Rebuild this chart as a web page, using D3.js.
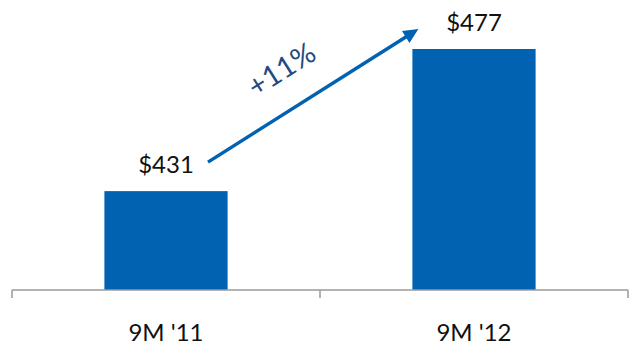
<!DOCTYPE html>
<html>
<head>
<meta charset="utf-8">
<script src="https://cdn.jsdelivr.net/npm/d3@7"></script>
<style>
  html, body { margin: 0; padding: 0; background: #fff; }
  svg { display: block; font-family: Lato, "Open Sans", sans-serif; }
</style>
</head>
<body>
<svg id="chart" width="635" height="347"></svg>
<script>
// Nine-month totals, in dollars
const categories = ["9M '11", "9M '12"];
const values = [431, 477];
const valueLabels = ["$431", "$477"];
const growthLabel = "+11%";

const svg = d3.select("#chart");
const baseline = 290;

const x = d3.scaleBand()
  .domain(categories)
  .range([12, 628])
  .paddingInner(0.6)
  .paddingOuter(0.3);

const y = d3.scaleLinear()
  .domain([399, 477])
  .range([baseline, 49]);

const barColor = "#0062b1";

// bars
svg.selectAll("rect.bar")
  .data(categories)
  .join("rect")
  .attr("class", "bar")
  .attr("x", d => x(d))
  .attr("width", x.bandwidth())
  .attr("y", (d, i) => y(values[i]))
  .attr("height", (d, i) => baseline - y(values[i]))
  .attr("fill", barColor);

// value labels above bars
svg.selectAll("text.value")
  .data(categories)
  .join("text")
  .attr("class", "value")
  .attr("x", d => x(d) + x.bandwidth() / 2)
  .attr("y", (d, i) => y(values[i]) - 18)
  .attr("text-anchor", "middle")
  .attr("font-size", 24)
  .attr("fill", "#111")
  .text((d, i) => valueLabels[i]);

// category axis: baseline with boundary ticks
const axisColor = "#9a9a9a";
svg.append("line")
  .attr("x1", 12).attr("x2", 628)
  .attr("y1", baseline).attr("y2", baseline)
  .attr("stroke", axisColor).attr("stroke-width", 1.5);

const boundaries = [x.range()[0], (x(categories[0]) + x.bandwidth() + x(categories[1])) / 2, x.range()[1]];
svg.selectAll("line.tick")
  .data(boundaries)
  .join("line")
  .attr("class", "tick")
  .attr("x1", d => d).attr("x2", d => d)
  .attr("y1", baseline).attr("y2", baseline + 8)
  .attr("stroke", axisColor).attr("stroke-width", 1.5);

svg.selectAll("text.cat")
  .data(categories)
  .join("text")
  .attr("class", "cat")
  .attr("x", d => x(d) + x.bandwidth() / 2)
  .attr("y", 341)
  .attr("text-anchor", "middle")
  .attr("font-size", 24)
  .attr("fill", "#111")
  .text(d => d);

// growth arrow between the two value labels
const ax = x(categories[0]) + x.bandwidth() / 2 + 42;
const ay = y(values[0]) - 29;
const bx = x(categories[1]) + 6;
const by = y(values[1]) - 20;
const len = Math.hypot(bx - ax, by - ay);
const ux = (bx - ax) / len, uy = (by - ay) / len;
const headLen = 15, headHalf = 7;
svg.append("line")
  .attr("x1", ax).attr("y1", ay)
  .attr("x2", bx - ux * (headLen - 2)).attr("y2", by - uy * (headLen - 2))
  .attr("stroke", barColor)
  .attr("stroke-width", 3.5);
const hx = bx - ux * headLen, hy = by - uy * headLen;
svg.append("path")
  .attr("d", `M${bx},${by} L${hx - uy * headHalf},${hy + ux * headHalf} L${hx + uy * headHalf},${hy - ux * headHalf} Z`)
  .attr("fill", barColor);

const angle = Math.atan2(by - ay, bx - ax) * 180 / Math.PI;
svg.append("text")
  .attr("transform", `translate(287,78) rotate(${angle})`)
  .attr("text-anchor", "middle")
  .attr("font-size", 29)
  .attr("fill", "#24497f")
  .text(growthLabel);
</script>
</body>
</html>
